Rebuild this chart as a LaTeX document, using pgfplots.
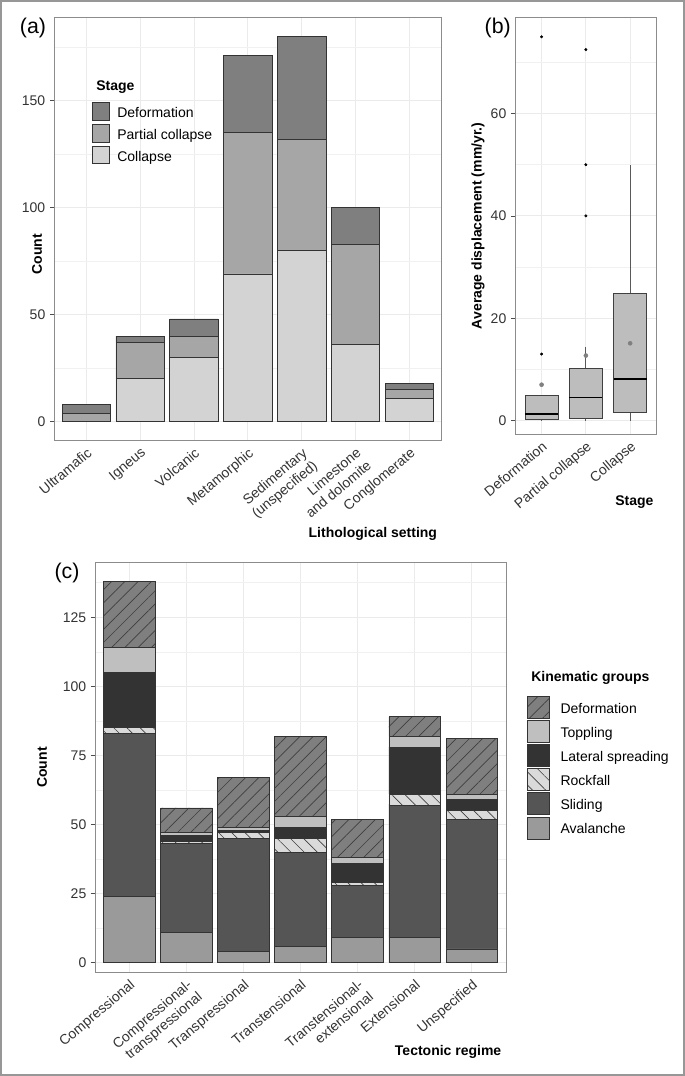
\documentclass[border=0pt]{standalone}
\usepackage{fontspec}
\setmainfont{Liberation Sans}
\usepackage{pgfplots}
\usepackage{pgfplotstable}
\pgfplotsset{compat=1.18}
\usepgfplotslibrary{statistics}
\usetikzlibrary{patterns.meta}

\definecolor{cdef}{HTML}{7F7F7F}
\definecolor{cpart}{HTML}{A6A6A6}
\definecolor{ccol}{HTML}{D3D3D3}
\definecolor{ctop}{HTML}{BFBFBF}
\definecolor{clat}{HTML}{333333}
\definecolor{crock}{HTML}{DADADA}
\definecolor{cslid}{HTML}{555555}
\definecolor{caval}{HTML}{9A9A9A}
\definecolor{cbox}{HTML}{BDBDBD}
\definecolor{gridc}{HTML}{EBEBEB}
\definecolor{framec}{HTML}{8C8C8C}

% lithology x stage counts
\pgfplotstableread{
x col part def
1 0 4 4
2 20 17 3
3 30 10 8
4 69 66 36
5 80 52 48
6 36 47 17
7 11 4 3
}\litho

% tectonic regime x kinematic group counts
\pgfplotstableread{
x av sl rf lat top def
1 24 59 2 20 9 24
2 11 32 1 2 1 9
3 4 41 2 1 1 18
4 6 34 5 4 4 29
5 9 19 1 7 2 14
6 9 48 4 17 4 7
7 5 47 3 4 2 20
}\tecto

\newcommand{\tfont}{\fontsize{10.5}{12}\selectfont}

\pgfplotsset{
  gg/.style={
    scale only axis, clip mode=individual,
    axis line style={framec, line width=0.6pt},
    xmajorgrids, ymajorgrids, yminorgrids,
    major grid style={gridc, line width=0.6pt},
    minor grid style={gridc!70, line width=0.4pt},
    tick align=outside, tick pos=left,
    xtick style={draw=none},
    ytick style={black!70, line width=0.5pt},
    major tick length=3pt,
    minor tick length=0pt,
    tick label style={font=\tfont, text=black!80},
    /pgf/number format/assume math mode=true,
    label style={font=\tfont\bfseries},
    x tick label style={rotate=40, anchor=north east, align=right, inner sep=1pt},
  },
  bars/.style={draw=black!80, line width=0.6pt},
}

\begin{document}
\begin{tikzpicture}
\draw[framec!90, line width=1.5pt] (0.75pt,-0.75pt) rectangle (513pt,-806.25pt);

% (a)
\begin{axis}[gg, at={(40.5pt,-13pt)}, anchor=north west,
  width=290.8pt, height=317.6pt,
  ybar stacked, bar width=0.9,
  xmin=0.4, xmax=7.6, ymin=-9, ymax=189,
  xtick={1,...,7},
  xticklabels={Ultramafic, Igneus, Volcanic, Metamorphic, {Sedimentary\\(unspecified)}, {Limestone\\and dolomite}, Conglomerate},
  ytick={0,50,100,150}, minor ytick={25,75,125,175},
  ylabel={Count}, ylabel style={at={(axis description cs:-0.044,0.441)}, anchor=center},
  xlabel={Lithological setting}, xlabel style={at={(axis description cs:1,-0.22)}, anchor=east},
  legend image code/.code={\draw[#1] (0pt,-5pt) rectangle (13pt,8pt);},
  legend style={at={(axis description cs:0.097,0.80)}, anchor=north west, draw=none, fill=none,
    font=\tfont, row sep=2.8pt, inner sep=0pt, nodes={inner sep=0pt},
    /tikz/every odd column/.append style={column sep=5.5pt}},
  legend cell align=left, reverse legend,
]
\addplot[bars, fill=ccol] table[x=x, y=col] {\litho};
\addplot[bars, fill=cpart] table[x=x, y=part] {\litho};
\addplot[bars, fill=cdef] table[x=x, y=def] {\litho};
\legend{Collapse, Partial collapse, Deformation}
\node[anchor=west, font=\tfont\bfseries] at (axis description cs:0.097,0.835) {Stage};
\node[anchor=west, font=\fontsize{16}{18}\selectfont] at (axis description cs:-0.10,0.975) {(a)};
\end{axis}

% (b)
\begin{axis}[gg, at={(386.25pt,-13pt)}, anchor=north west,
  width=106.3pt, height=312.75pt,
  xmin=0.4, xmax=3.6, ymin=-2.7, ymax=78.8,
  xtick={1,2,3}, xticklabels={Deformation, Partial collapse, Collapse},
  ytick={0,20,40,60}, minor ytick={10,30,50,70},
  ylabel={Average displacement (mm/yr.)}, ylabel style={at={(axis description cs:-0.26,0.5)}, anchor=center},
  xlabel={Stage}, xlabel style={at={(axis description cs:1.01,-0.162)}, anchor=east},
  boxplot/draw direction=y,
  boxplot/every box/.style={fill=cbox, draw=black!75, line width=0.6pt},
  boxplot/every whisker/.style={draw=black!65, line width=0.6pt},
  boxplot/every median/.style={draw=black, line width=1.3pt},
  boxplot/whisker extend=0,
]
\addplot[boxplot prepared={draw position=1, box extend=0.75,
  lower whisker=0, lower quartile=0.15, median=1.25, upper quartile=4.9, upper whisker=4.9}]
  coordinates {};
\addplot[boxplot prepared={draw position=2, box extend=0.75,
  lower whisker=0, lower quartile=0.45, median=4.5, upper quartile=10.2, upper whisker=14.3}]
  coordinates {};
\addplot[boxplot prepared={draw position=3, box extend=0.75,
  lower whisker=0, lower quartile=1.6, median=8.1, upper quartile=24.9, upper whisker=50}]
  coordinates {};
% outliers
\addplot[only marks, mark=*, mark size=0.9pt, black] coordinates {(1,13) (1,75) (2,40) (2,50) (2,72.5)};
% means
\addplot[only marks, mark=*, mark size=1.5pt, color=black!50] coordinates {(1,7.0) (2,12.7) (3,15.1)};
\node[anchor=west, font=\fontsize{16}{18}\selectfont] at (axis description cs:-0.247,0.974) {(b)};
\end{axis}

% (c)
\begin{axis}[gg, at={(71.25pt,-421.7pt)}, anchor=north west,
  width=308.25pt, height=307.8pt,
  ybar stacked, bar width=0.9,
  xmin=0.4, xmax=7.6, ymin=-3.6, ymax=144.9,
  xtick={1,...,7},
  xticklabels={Compressional, {Compressional-\\transpressional}, Transpressional, Transtensional, {Transtensional-\\extensional}, Extensional, Unspecified},
  ytick={0,25,50,75,100,125}, minor ytick={12.5,37.5,62.5,87.5,112.5,137.5},
  ylabel={Count}, ylabel style={at={(axis description cs:-0.129,0.5)}, anchor=center},
  xlabel={Tectonic regime}, xlabel style={at={(axis description cs:1,-0.1925)}, anchor=east},
  legend image code/.code={\draw[#1] (0pt,-7pt) rectangle (16.7pt,9.5pt);},
  legend style={at={(axis description cs:1.05,0.675)}, anchor=north west, draw=none, fill=none,
    font=\tfont, row sep=1pt, inner sep=0pt, nodes={inner sep=0pt},
    /tikz/every odd column/.append style={column sep=8pt}},
  legend cell align=left, reverse legend,
]
\addplot[bars, fill=caval] table[x=x, y=av] {\tecto};
\addplot[bars, fill=cslid] table[x=x, y=sl] {\tecto};
\addplot[bars, fill=crock, postaction={pattern={Lines[angle=-45, distance=7pt, line width=0.5pt]}, pattern color=black!75}] table[x=x, y=rf] {\tecto};
\addplot[bars, fill=clat] table[x=x, y=lat] {\tecto};
\addplot[bars, fill=ctop] table[x=x, y=top] {\tecto};
\addplot[bars, fill=cdef, postaction={pattern={Lines[angle=45, distance=7pt, line width=0.5pt]}, pattern color=black!75}] table[x=x, y=def] {\tecto};
\legend{Avalanche, Sliding, Rockfall, Lateral spreading, Toppling, Deformation}
\node[anchor=west, font=\tfont\bfseries] at (axis description cs:1.05,0.719) {Kinematic groups};
\node[anchor=west, font=\fontsize{16}{18}\selectfont] at (axis description cs:-0.11,0.975) {(c)};
\end{axis}
\end{tikzpicture}
\end{document}
